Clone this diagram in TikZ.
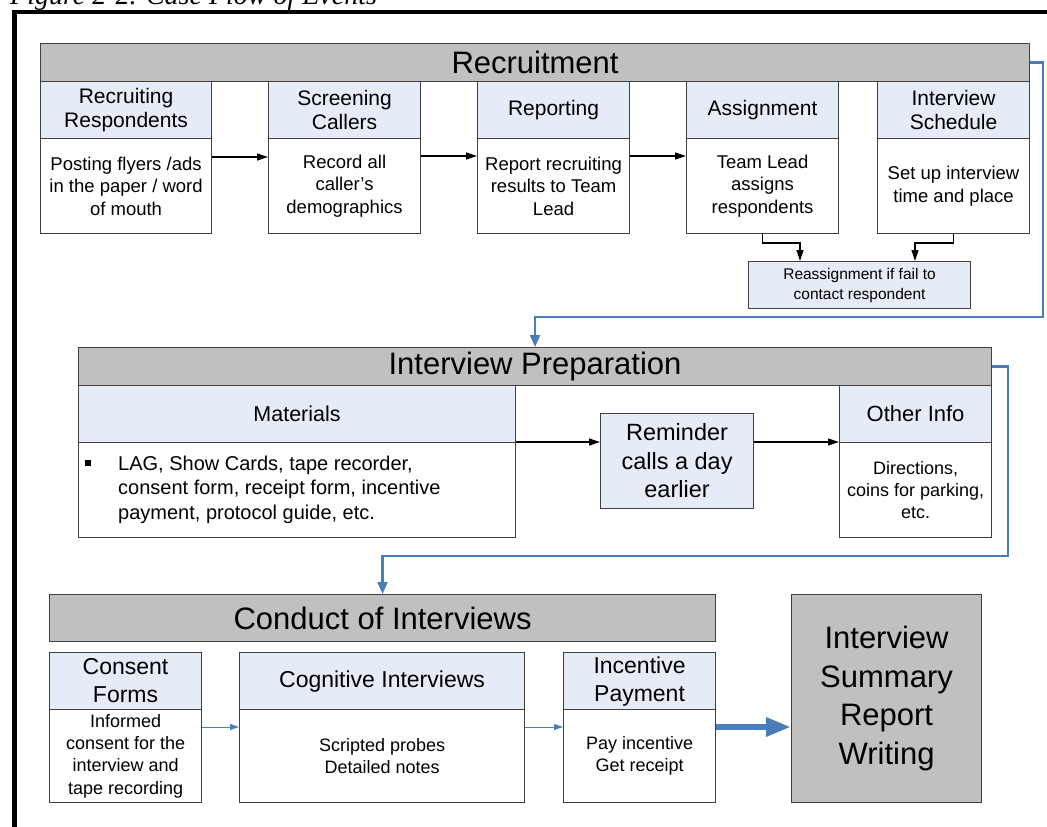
\documentclass[tikz,border=0pt]{standalone}
\usepackage{fontspec}
\setmainfont{Liberation Sans}
\newfontfamily\capfont{Liberation Serif}
\usetikzlibrary{arrows.meta}
\definecolor{grayc}{HTML}{C0C0C0}
\definecolor{bluec}{HTML}{E6ECF7}
\definecolor{linec}{HTML}{404040}
\definecolor{bluel}{HTML}{4A7EBB}
\tikzset{
  base/.style={draw=linec, line width=1.1pt, inner sep=0pt, anchor=north west, align=center},
  grayhdr/.style={base, fill=grayc, font=\fontsize{31}{36}\selectfont},
  subhdr/.style={base, fill=bluec, font=\fontsize{21}{24.5}\selectfont},
  bodybox/.style={base, fill=white, font=\fontsize{18.5}{22.5}\selectfont},
  arr/.style={draw=black, line width=1.3pt, -{Triangle[length=11pt,width=7pt]}},
  barr/.style={draw=bluel, line width=2.3pt, -{Triangle[length=12pt,width=10pt]}},
  tbarr/.style={draw=bluel, line width=1pt, -{Triangle[length=9pt,width=6pt]}},
  bigarr/.style={draw=bluel, line width=6pt, -{Triangle[length=25pt,width=18pt]}},
}
\begin{document}
\begin{tikzpicture}[x=1pt,y=-1pt]
\useasboundingbox (0,0) rectangle (1047,827);
\fill[white] (0,0) rectangle (1047,827);
% caption and frame
\node[anchor=base west, inner sep=0pt, font=\capfont\itshape\fontsize{28}{32}\selectfont] (cap) at (10,5) {Figure 2-2. Case Flow of Events};
\draw[line width=4.5pt] (14.5,900) -- (14.5,12) -- (1100,12);

% ---------- Recruitment ----------
\node[grayhdr, minimum width=989pt, minimum height=38pt] (rec) at (40,43) {Recruitment};

\node[subhdr, minimum width=171pt, minimum height=57pt] (rh1) at (40,81) {Recruiting\\Respondents};
\node[bodybox, minimum width=171pt, minimum height=95pt] (rb1) at (40,138) {Posting flyers /ads\\in the paper / word\\of mouth};

\node[subhdr, minimum width=152pt, minimum height=57pt] (rh2) at (268,81) {Screening\\Callers};
\node[bodybox, minimum width=152pt, minimum height=95pt] (rb2) at (268,138) {Record all\\caller's\\demographics};

\node[subhdr, minimum width=152pt, minimum height=57pt] (rh3) at (477,81) {Reporting};
\node[bodybox, minimum width=152pt, minimum height=95pt] (rb3) at (477,138) {Report recruiting\\results to Team\\Lead};

\node[subhdr, minimum width=152pt, minimum height=57pt] (rh4) at (686,81) {Assignment};
\node[bodybox, minimum width=152pt, minimum height=95pt] (rb4) at (686,138) {Team Lead\\assigns\\respondents};

\node[subhdr, minimum width=152pt, minimum height=57pt] (rh5) at (877,81) {Interview\\Schedule};
\node[bodybox, minimum width=152pt, minimum height=95pt] (rb5) at (877,138) {Set up interview\\time and place};

\node[base, fill=bluec, font=\fontsize{15.5}{20}\selectfont, minimum width=222pt, minimum height=47pt] (reas) at (748,261) {Reassignment if fail to\\contact respondent};

\draw[arr] (rb1.east |- 0,157) -- (rb2.west |- 0,157);
\draw[arr] (rb2.east |- 0,156) -- (rb3.west |- 0,156);
\draw[arr] (rb3.east |- 0,156) -- (rb4.west |- 0,156);
\draw[arr] (rb4.south) |- (800,243) -- (reas.north -| 800,0);
\draw[arr] (rb5.south) |- (915,243) -- (reas.north -| 915,0);

% ---------- Interview Preparation ----------
\node[grayhdr, minimum width=913pt, minimum height=38pt] (prep) at (78,347) {Interview Preparation};

\node[subhdr, font=\fontsize{21.5}{25}\selectfont, minimum width=437pt, minimum height=57pt] (mh) at (78,385) {Materials};
\node[bodybox, minimum width=437pt, minimum height=95pt] (mb) at (78,442) {};
\node[anchor=west, inner sep=0pt, font=\fontsize{20}{24.5}\selectfont] (mtxt) at (85,490)
  {\begin{tabular}{@{}l@{\hspace{27pt}}l@{}}\raisebox{4.5pt}{\rule{6pt}{6pt}} & LAG, Show Cards, tape recorder,\\ & consent form, receipt form, incentive\\ & payment, protocol guide, etc.\end{tabular}};

\node[base, fill=bluec, font=\fontsize{23.5}{28.5}\selectfont, minimum width=153pt, minimum height=95pt] (rem) at (600,413) {Reminder\\calls a day\\earlier};

\node[subhdr, font=\fontsize{22}{26}\selectfont, minimum width=152pt, minimum height=57pt] (oh) at (839,385) {Other Info};
\node[bodybox, font=\fontsize{18}{22}\selectfont, minimum width=152pt, minimum height=95pt] (ob) at (839,442) {Directions,\\coins for parking,\\etc.};

\draw[arr] (mb.north east) -- (rem.west |- mb.north east);
\draw[arr] (rem.east |- ob.north west) -- (ob.north west);

% ---------- Conduct of Interviews ----------
\node[grayhdr, minimum width=666pt, minimum height=47pt] (cond) at (49,594) {Conduct of Interviews};

\node[subhdr, font=\fontsize{23}{28}\selectfont, minimum width=152pt, minimum height=57pt] (ch) at (49,652) {Consent\\Forms};
\node[bodybox, font=\fontsize{18}{22.4}\selectfont, minimum width=152pt, minimum height=93pt] (cb) at (49,709) {Informed\\consent for the\\interview and\\tape recording};

\node[subhdr, font=\fontsize{23}{28}\selectfont, minimum width=285pt, minimum height=57pt] (gh) at (239,652) {Cognitive Interviews};
\node[bodybox, font=\fontsize{18}{22.4}\selectfont, minimum width=285pt, minimum height=93pt] (gb) at (239,709) {Scripted probes\\Detailed notes};

\node[subhdr, font=\fontsize{23}{28}\selectfont, minimum width=152pt, minimum height=57pt] (ih) at (563,652) {Incentive\\Payment};
\node[bodybox, font=\fontsize{18}{22.4}\selectfont, minimum width=152pt, minimum height=93pt] (ib) at (563,709) {Pay incentive\\Get receipt};

\node[base, fill=grayc, font=\fontsize{31}{38.5}\selectfont, minimum width=190pt, minimum height=208pt] (sum) at (791,594) {Interview\\Summary\\Report\\Writing};

\draw[tbarr] (cb.east |- 0,727) -- (gb.west |- 0,727);
\draw[tbarr] (gb.east |- 0,727) -- (ib.west |- 0,727);
\draw[bigarr] (ib.east |- 0,727) -- (sum.west |- 0,727);

% ---------- blue flow connectors ----------
\draw[barr] (rec.east) -| (1043,317) -| (prep.north);
\draw[barr] (prep.east) -| (1008,556) -| (cond.north);
\end{tikzpicture}
\end{document}
